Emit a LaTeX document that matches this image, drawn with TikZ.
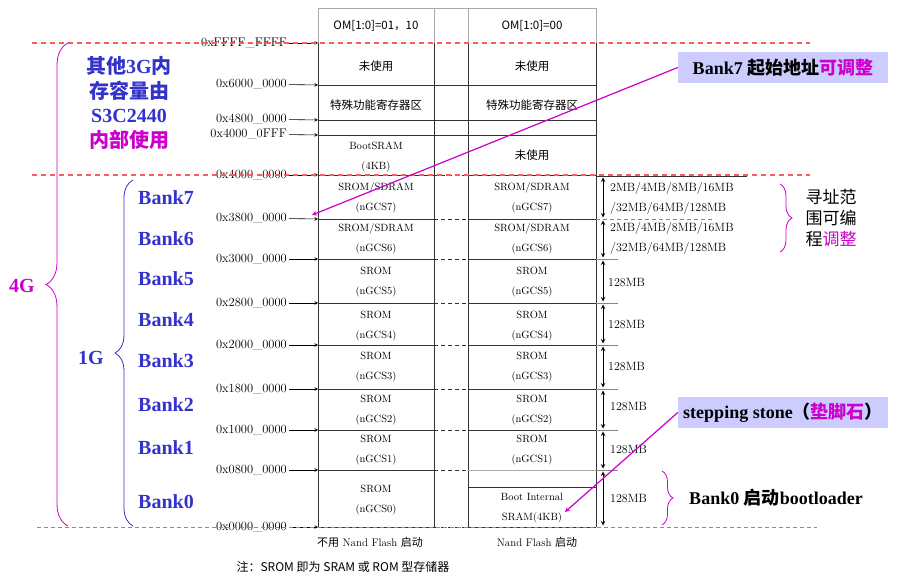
\documentclass[tikz,border=0pt]{standalone}
\usepackage{fontspec}
\usetikzlibrary{decorations.pathreplacing}
\newfontfamily\cjk{Noto Sans CJK SC}
\newfontfamily\tnr{Liberation Serif}
\definecolor{BankBlue}{HTML}{3333CC}
\definecolor{NoteMagenta}{HTML}{CC00CC}
\definecolor{CalloutFill}{HTML}{CCCCFF}
\definecolor{SplitRed}{HTML}{FF5A5A}
\definecolor{GridGray}{HTML}{333333}
\definecolor{HeadGray}{HTML}{AAAAAA}

\begin{document}
\begin{tikzpicture}[x=1pt, y=-1pt, >=stealth,
    txt/.style={inner sep=0pt, align=center},
    cell/.style={txt, font=\fontsize{10.5}{20}\selectfont},
    cjkcell/.style={txt, font=\cjk\fontsize{11.5}{20}\selectfont},
    addr/.style={inner sep=0pt, anchor=east, font=\fontsize{12.5}{14}\selectfont},
    addrarrow/.style={->, semithick, shorten <=2pt},
    gridline/.style={GridGray, line width=0.9pt},
    colbdash/.style={GridGray, line width=0.9pt, dash pattern=on 4pt off 3pt},
    redsplit/.style={SplitRed, line width=1.5pt, dash pattern=on 5pt off 4pt},
    bank/.style={txt, BankBlue, font=\tnr\bfseries\fontsize{20}{24}\selectfont},
    sizelabel/.style={inner sep=0pt, anchor=west, align=left, font=\fontsize{12}{20}\selectfont},
    sizearrow/.style={<->, line width=1pt, shorten <=1.5pt, shorten >=1.5pt},
    notebox/.style={fill=CalloutFill, minimum width=210pt, minimum height=31pt, inner sep=0pt, font=\tnr\bfseries\fontsize{18}{20}\selectfont},
    pointer/.style={->, NoteMagenta, line width=1.2pt},
    bracedown/.style={decorate, decoration={brace, amplitude=#1}, line width=0.8pt}
  ]
    \path[use as bounding box] (0,0) rectangle (897,577);

    % Row boundaries on the left edge of the table
    \coordinate (tFFFF) at (318,43);
    \coordinate (t6000) at (318,85);
    \coordinate (t4800) at (318,120);
    \coordinate (t40FF) at (318,135);
    \coordinate (t4000) at (318,175);
    \coordinate (t3800) at (318,219);
    \coordinate (t3000) at (318,259);
    \coordinate (t2800) at (318,303);
    \coordinate (t2000) at (318,345);
    \coordinate (t1800) at (318,389);
    \coordinate (t1000) at (318,430);
    \coordinate (t0800) at (318,470);
    \coordinate (t0000) at (318,527);

    % Header row (gray)
    \draw[HeadGray, line width=0.8pt] (318,43) -- (318,8) -- (596,8) -- (596,43);
    \draw[HeadGray, line width=0.8pt] (434,8) -- (434,43) (468,8) -- (468,43);
    \node[cjkcell] (hA) at (376,26) {OM[1:0]=01，10};
    \node[cjkcell] (hC) at (532,26) {OM[1:0]=00};

    % Table columns
    \draw[gridline] (318,43) -- (318,527);
    \draw[gridline] (434,43) -- (434,527);
    \draw[gridline] (468,43) -- (468,527);
    \draw[gridline] (596,43) -- (596,527);

    % Upper rows (internal area)
    \draw[gridline] (318,85) -- (596,85);
    \draw[gridline] (318,120) -- (596,120);
    \draw[gridline] (318,135) -- (596,135);

    % Bank rows: solid in the two memory columns, dashed in between
    \draw[gridline] (318,175) -- (434,175) (468,175) -- (596,175);
    \draw[gridline] (318,219) -- (434,219) (468,219) -- (596,219);
    \draw[gridline] (318,259) -- (434,259) (468,259) -- (596,259);
    \draw[gridline] (318,303) -- (434,303) (468,303) -- (596,303);
    \draw[gridline] (318,345) -- (434,345) (468,345) -- (596,345);
    \draw[gridline] (318,389) -- (434,389) (468,389) -- (596,389);
    \draw[gridline] (318,430) -- (434,430) (468,430) -- (596,430);
    \draw[gridline] (318,470) -- (434,470);
    \draw[HeadGray] (468,470) -- (596,470);
    \draw[gridline] (468,487) -- (596,487);
    \draw[gridline] (318,527) -- (434,527) (468,527) -- (596,527);
    \draw[colbdash] (434,175) -- (468,175) (434,219) -- (468,219) (434,259) -- (468,259)
                    (434,303) -- (468,303) (434,345) -- (468,345) (434,389) -- (468,389)
                    (434,430) -- (468,430) (434,470) -- (468,470) (434,527) -- (468,527);

    % Cell contents, boot mode OM=01,10
    \node[cjkcell] (uA) at (376,66) {未使用};
    \node[cjkcell] (sfrA) at (376,105) {特殊功能寄存器区};
    \node[cell] (bsA) at (376,157) {BootSRAM\\(4KB)};
    \node[cell] (g7A) at (376,198) {SROM/SDRAM\\(nGCS7)};
    \node[cell] (g6A) at (376,239) {SROM/SDRAM\\(nGCS6)};
    \node[cell] (g5A) at (376,282) {SROM\\(nGCS5)};
    \node[cell] (g4A) at (376,326) {SROM\\(nGCS4)};
    \node[cell] (g3A) at (376,367.5) {SROM\\(nGCS3)};
    \node[cell] (g2A) at (376,410.5) {SROM\\(nGCS2)};
    \node[cell] (g1A) at (376,450.5) {SROM\\(nGCS1)};
    \node[cell] (g0A) at (376,500) {SROM\\(nGCS0)};

    % Cell contents, boot mode OM=00
    \node[cjkcell] (uC) at (532,66) {未使用};
    \node[cjkcell] (sfrC) at (532,105) {特殊功能寄存器区};
    \node[cjkcell] (u2C) at (532,155) {未使用};
    \node[cell] (g7C) at (532,198) {SROM/SDRAM\\(nGCS7)};
    \node[cell] (g6C) at (532,239) {SROM/SDRAM\\(nGCS6)};
    \node[cell] (g5C) at (532,282) {SROM\\(nGCS5)};
    \node[cell] (g4C) at (532,326) {SROM\\(nGCS4)};
    \node[cell] (g3C) at (532,367.5) {SROM\\(nGCS3)};
    \node[cell] (g2C) at (532,410.5) {SROM\\(nGCS2)};
    \node[cell] (g1C) at (532,450.5) {SROM\\(nGCS1)};
    \node[cell] (g0C) at (532,508.5) {Boot Internal\\SRAM(4KB)};

    % Column captions and note
    \node[txt, font=\fontsize{11}{13}\selectfont] (capA) at (370,542) {{\cjk 不用} Nand Flash {\cjk 启动}};
    \node[txt, font=\fontsize{11}{13}\selectfont] (capC) at (537,542) {Nand Flash {\cjk 启动}};
    \node[txt, font=\cjk\fontsize{12}{14}\selectfont] (note) at (343,567) {注：SROM 即为 SRAM 或 ROM 型存储器};

    % Address labels with arrows
    \node[addr] (aFFFF) at (287,43) {0xFFFF\_FFFF};
    \node[addr] (a6000) at (287,84) {0x6000\_0000};
    \node[addr] (a4800) at (287,119) {0x4800\_0000};
    \node[addr] (a40FF) at (287,134) {0x4000\_0FFF};
    \node[addr] (a4000) at (287,175) {0x4000\_0000};
    \node[addr] (a3800) at (287,218) {0x3800\_0000};
    \node[addr] (a3000) at (287,259) {0x3000\_0000};
    \node[addr] (a2800) at (287,303) {0x2800\_0000};
    \node[addr] (a2000) at (287,345) {0x2000\_0000};
    \node[addr] (a1800) at (287,389) {0x1800\_0000};
    \node[addr] (a1000) at (287,430) {0x1000\_0000};
    \node[addr] (a0800) at (287,470) {0x0800\_0000};
    \node[addr] (a0000) at (287,527) {0x0000\_0000};
    \draw[addrarrow] (aFFFF) -- (tFFFF);
    \draw[addrarrow] (a6000) -- (t6000);
    \draw[addrarrow] (a4800) -- (t4800);
    \draw[addrarrow] (a40FF) -- (t40FF);
    \draw[addrarrow] (a4000) -- (t4000);
    \draw[addrarrow] (a3800) -- (t3800);
    \draw[addrarrow] (a3000) -- (t3000);
    \draw[addrarrow] (a2800) -- (t2800);
    \draw[addrarrow] (a2000) -- (t2000);
    \draw[addrarrow] (a1800) -- (t1800);
    \draw[addrarrow] (a1000) -- (t1000);
    \draw[addrarrow] (a0800) -- (t0800);
    \draw[addrarrow] (a0000) -- (t0000);

    % Red split lines
    \draw[redsplit] (32,43) -- (810,43);
    \draw[redsplit] (32,175) -- (810,175);
    \draw[SplitRed, line width=1pt, dash pattern=on 4pt off 3pt] (37,527) -- (817,527);

    % Size ticks and arrows on the right
    \draw[gridline] (596,176) -- (747,176);
    \draw[GridGray!60, line width=0.9pt, dash pattern=on 4pt off 3pt] (596,219) -- (715,219);
    \draw[GridGray!60, line width=0.9pt] (596,259) -- (618,259) (596,303) -- (618,303)
        (596,345) -- (618,345) (596,389) -- (618,389) (596,430) -- (618,430) (596,470) -- (618,470);
    \coordinate (r4000) at (603,176);
    \coordinate (r3800) at (603,219);
    \coordinate (r3000) at (603,259);
    \coordinate (r2800) at (603,303);
    \coordinate (r2000) at (603,345);
    \coordinate (r1800) at (603,389);
    \coordinate (r1000) at (603,430);
    \coordinate (r0800) at (603,470);
    \coordinate (r0000) at (603,527);
    \draw[sizearrow] (r4000) -- (r3800);
    \draw[sizearrow] (r3800) -- (r3000);
    \draw[sizearrow] (r3000) -- (r2800);
    \draw[sizearrow] (r2800) -- (r2000);
    \draw[sizearrow] (r2000) -- (r1800);
    \draw[sizearrow] (r1800) -- (r1000);
    \draw[sizearrow] (r1000) -- (r0800);
    \draw[sizearrow] (r0800) -- (r0000);
    \node[sizelabel] (z7) at (610,198.5) {2MB/4MB/8MB/16MB\\/32MB/64MB/128MB};
    \node[sizelabel] (z6) at (610,239) {2MB/4MB/8MB/16MB\\/32MB/64MB/128MB};
    \node[sizelabel] (z5) at (608,283) {128MB};
    \node[sizelabel] (z4) at (608,325) {128MB};
    \node[sizelabel] (z3) at (608,367) {128MB};
    \node[sizelabel] (z2) at (610,407) {128MB};
    \node[sizelabel] (z1) at (610,450) {128MB};
    \node[sizelabel] (z0) at (610,499) {128MB};

    % Right braces and notes
    \draw[bracedown=12pt, NoteMagenta] (780,184) -- (780,252);
    \node[txt, font=\cjk\fontsize{17}{21}\selectfont] (prog) at (831,218) {寻址范\\围可编\\程{\color{NoteMagenta}调整}};
    \draw[bracedown=11pt, NoteMagenta] (662,471) -- (662,525);
    \node[txt, font=\tnr\bfseries\fontsize{18}{20}\selectfont] (boot0) at (776,498) {Bank0 {\cjk 启动}bootloader};

    % Left braces and bank names
    \draw[bracedown=22pt, NoteMagenta] (68,526) -- (68,43);
    \node[txt, NoteMagenta, font=\tnr\bfseries\fontsize{20}{24}\selectfont] (four) at (22,286) {4G};
    \draw[bracedown=18pt, BankBlue] (133,526) -- (133,180);
    \node[bank] (one) at (91,358) {1G};
    \node[bank, font=\tnr\bfseries\fontsize{20}{24.5}\selectfont] (other) at (129,103)
        {{\cjk 其他}3G{\cjk 内}\\{\cjk 存容量由}\\S3C2440\\{\color{NoteMagenta}\cjk 内部使用}};
    \node[bank] (b7) at (166,198) {Bank7};
    \node[bank] (b6) at (166,239) {Bank6};
    \node[bank] (b5) at (166,279) {Bank5};
    \node[bank] (b4) at (166,320) {Bank4};
    \node[bank] (b3) at (166,361) {Bank3};
    \node[bank] (b2) at (166,405) {Bank2};
    \node[bank] (b1) at (166,448) {Bank1};
    \node[bank] (b0) at (166,502) {Bank0};

    % Callouts with pointers
    \coordinate (p7) at (312,215);
    \coordinate (ps) at (565,512);
    \node[notebox] (c7) at (783,67.5) {Bank7 {\cjk 起始地址}{\cjk\color{NoteMagenta}可调整}};
    \node[notebox] (cs) at (783,412.5) {stepping stone{\cjk （}{\cjk\color{NoteMagenta}垫脚石}{\cjk ）}};
    \draw[pointer] (c7.west) -- (p7);
    \draw[pointer] (cs.west) -- (ps);

\end{tikzpicture}
\end{document}
